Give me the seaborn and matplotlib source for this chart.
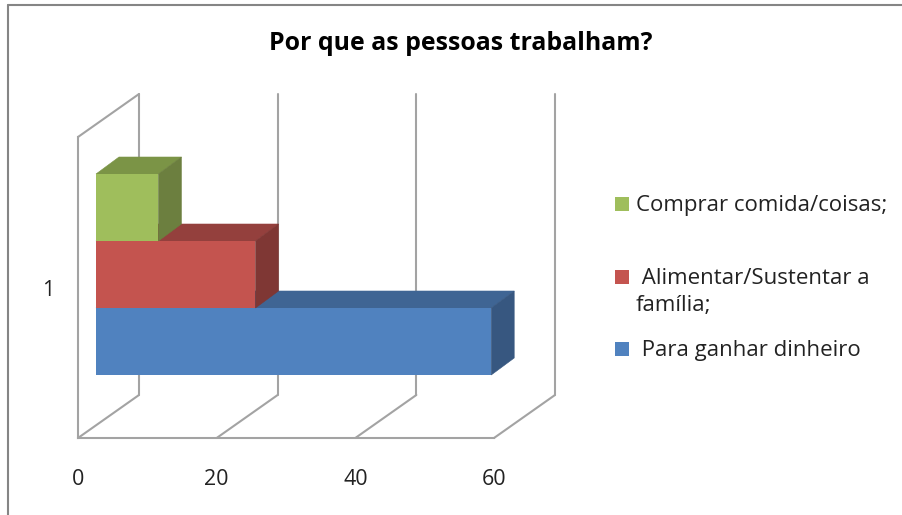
#!/usr/bin/env python
"""Por que as pessoas trabalham? - bar chart with a drawn 3D look."""

import matplotlib

matplotlib.use("Agg")

import matplotlib.pyplot as plt
import pandas as pd
import seaborn as sns
from matplotlib.lines import Line2D
from matplotlib.patches import Polygon, Rectangle
from matplotlib.transforms import Affine2D, IdentityTransform, blended_transform_factory

TITLE = "Por que as pessoas trabalham?"
SERIES = ["Comprar comida/coisas;", "Alimentar/Sustentar a\nfamília;", "Para ganhar dinheiro"]
LEGEND_LABELS = ["Comprar comida/coisas;", " Alimentar/Sustentar a\nfamília;", " Para ganhar dinheiro"]
VALUES = [9, 23, 57]
CATEGORY = ["1", "1", "1"]
X_TICKS = [0, 20, 40, 60]

FRONT = ["#9FBE5C", "#C4544F", "#5082BF"]
TOP = ["#7B9446", "#94403D", "#3F6594"]
SIDE = ["#6C7F3F", "#7F3734", "#375780"]
WALL = "#A3A3A3"
TEXT = "#222222"

W, H = 903, 515
DEPTH = (61, 43)  # back wall offset, px
BAR_SHIFT = (18, 13)  # bars sit inside the depth, px
BAR_DEPTH = (23, 17)

sns.set_theme(style="white")
plt.rcParams["font.family"] = ["Open Sans", "DejaVu Sans"]

fig = plt.figure(figsize=(W / 100, H / 100), dpi=100)
ax = fig.add_axes([78 / W, 1 - 438 / H, 416 / W, 301 / H])

df = pd.DataFrame({"grupo": CATEGORY, "valor": VALUES, "serie": SERIES})
sns.barplot(
    data=df, x="valor", y="grupo", hue="serie", hue_order=SERIES, palette=FRONT,
    orient="h", width=201 / 301, saturation=1, linewidth=0, legend=False, ax=ax,
)
ax.set_xlim(X_TICKS[0], X_TICKS[-1])
ax.set_ylim(0.5, -0.5)
ax.set_xticks(X_TICKS)
ax.set_xlabel("")
ax.set_ylabel("")
ax.tick_params(axis="x", length=0, pad=22, labelsize=15.5, colors=TEXT)
ax.tick_params(axis="y", length=0, pad=17, labelsize=15.5, colors=TEXT)
sns.despine(ax=ax)
for name in ("left", "bottom"):
    ax.spines[name].set_color(WALL)
    ax.spines[name].set_linewidth(1.5)
ax.patch.set_alpha(0)

# back wall and floor lines, one set per tick
pixel = IdentityTransform()
base = blended_transform_factory(ax.transData, ax.transAxes)
line_style = {"color": WALL, "lw": 1.5, "transform": pixel, "clip_on": False, "zorder": 1}
for tick in X_TICKS:
    x0, y0 = base.transform((tick, 0))
    _, y1 = base.transform((tick, 1))
    ax.add_line(Line2D([x0, x0 + DEPTH[0]], [y0, y0 + DEPTH[1]], **line_style))
    ax.add_line(Line2D([x0 + DEPTH[0]] * 2, [y0 + DEPTH[1], y1 + DEPTH[1]], **line_style))
x0, _ = base.transform((0, 0))
_, y1 = base.transform((0, 1))
ax.add_line(Line2D([x0, x0 + DEPTH[0]], [y1, y1 + DEPTH[1]], **line_style))

# shift the bars into the box and add their top and side faces
shift = ax.transData + Affine2D().translate(*BAR_SHIFT)
bars = [container[0] for container in ax.containers]
for i, bar in enumerate(bars):
    z = 5 - i
    bar.set_transform(shift)
    bar.set_zorder(z + 0.5)
    bar.set_clip_on(False)
    box = bar.get_window_extent()
    dx, dy = BAR_DEPTH
    top = [(box.x0, box.y1), (box.x1, box.y1), (box.x1 + dx, box.y1 + dy), (box.x0 + dx, box.y1 + dy)]
    side = [(box.x1, box.y0), (box.x1, box.y1), (box.x1 + dx, box.y1 + dy), (box.x1 + dx, box.y0 + dy)]
    ax.add_patch(Polygon(top, facecolor=TOP[i], edgecolor=TOP[i], lw=0.4, transform=pixel, clip_on=False, zorder=z))
    ax.add_patch(Polygon(side, facecolor=SIDE[i], edgecolor=SIDE[i], lw=0.4, transform=pixel, clip_on=False, zorder=z))

fig.text(461 / W, 1 - 44 / H, TITLE, ha="center", va="center", fontsize=17.9,
         fontweight="bold", color="black")

# legend entries sit at uneven spacing in the original
legend_rows = [204, 277, 349]
for label, color, row in zip(LEGEND_LABELS, FRONT, legend_rows):
    fig.add_artist(Rectangle((615 / W, 1 - (row + 7) / H), 14 / W, 14 / H, facecolor=color,
                             edgecolor="none", transform=fig.transFigure))
    fig.text(636 / W, 1 - (row - 9) / H, label, ha="left", va="top", fontsize=16,
             color=TEXT, linespacing=1.35)

# outer frame, cut off on the right and at the bottom
frame = {"color": "#858585", "lw": 1.5, "transform": fig.transFigure}
fig.add_artist(Line2D([8 / W, 8 / W], [0, 1 - 5 / H], **frame))
fig.add_artist(Line2D([8 / W, 1], [1 - 5 / H, 1 - 5 / H], **frame))

fig.savefig("out.png", dpi=100)
